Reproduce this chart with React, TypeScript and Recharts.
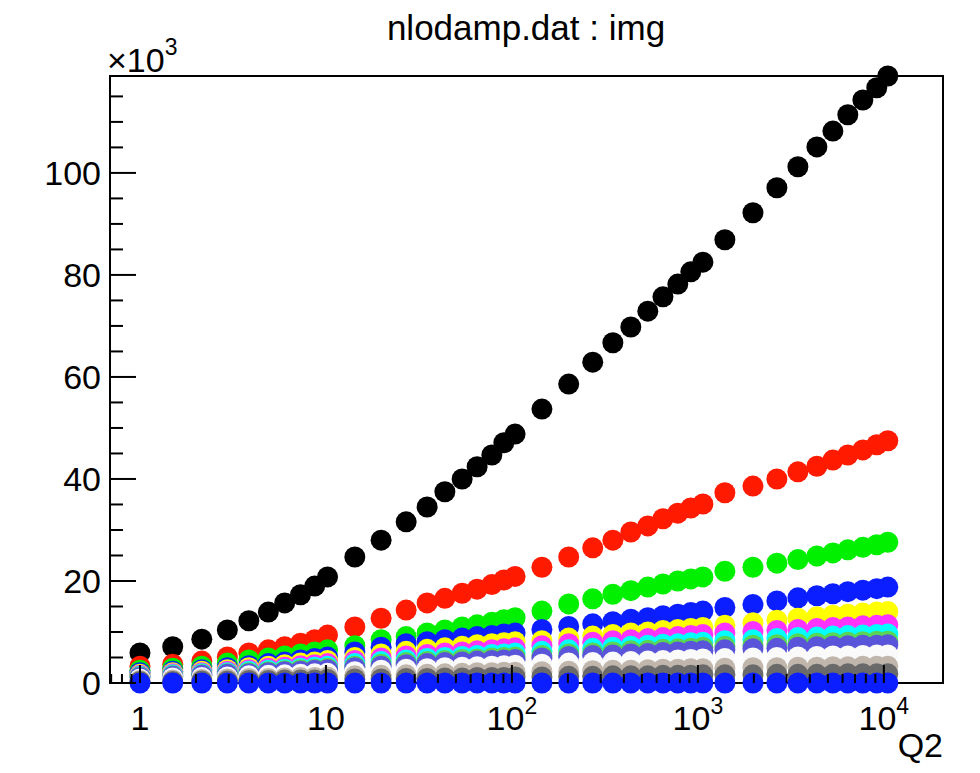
import { ScatterChart, Scatter, XAxis, YAxis, ReferenceArea } from 'recharts';

// Q2 grid (log x), 4 decades of 10 points
const q2 = [
  1, 1.5, 2.15, 2.95, 3.85, 4.9, 6.0, 7.3, 8.7, 10.2,
  14.3, 19.8, 27, 35, 43.6, 54, 65, 78, 90.5, 104,
  145, 202, 272, 349, 436, 538, 649, 780, 916, 1064,
  1397, 1977, 2660, 3450, 4365, 5320, 6400, 7710, 9160, 10500,
];

// values in units of 10^3
const black = [
  5.9, 7.1, 8.6, 10.4, 12.2, 13.9, 15.7, 17.3, 19.0, 20.8,
  24.7, 28.0, 31.6, 34.5, 37.5, 40.0, 42.4, 44.7, 47.1, 48.8,
  53.7, 58.6, 62.9, 66.7, 69.8, 72.9, 75.7, 78.2, 80.6, 82.5,
  86.9, 92.2, 97.1, 101.2, 105.1, 108.2, 111.4, 114.3, 116.7, 119.0,
];
const red = [
  3.3, 3.7, 4.3, 5.1, 5.9, 6.5, 7.1, 7.8, 8.5, 9.4,
  11.0, 12.7, 14.3, 15.7, 16.6, 17.6, 18.4, 19.3, 20.2, 20.9,
  22.7, 24.7, 26.5, 28.0, 29.6, 30.8, 32.2, 33.3, 34.3, 35.1,
  37.3, 38.6, 40.0, 41.4, 42.5, 43.7, 44.7, 45.7, 46.7, 47.5,
];
const green = [
  2.5, 2.9, 3.3, 3.9, 4.5, 4.9, 5.3, 5.7, 6.1, 6.5,
  7.3, 8.5, 9.1, 9.8, 10.4, 11.0, 11.4, 11.9, 12.4, 12.8,
  14.1, 15.5, 16.5, 17.4, 18.1, 18.8, 19.4, 20.0, 20.4, 20.8,
  21.9, 22.7, 23.5, 24.2, 24.9, 25.5, 26.1, 26.6, 27.1, 27.6,
];
const blue = [
  2.0, 2.3, 2.6, 3.0, 3.4, 3.8, 4.1, 4.5, 4.8, 5.1,
  6.1, 7.0, 7.7, 8.1, 8.5, 8.8, 9.1, 9.3, 9.6, 9.8,
  10.5, 11.1, 11.6, 12.0, 12.5, 12.8, 13.2, 13.5, 13.8, 14.1,
  14.8, 15.4, 16.1, 16.7, 17.1, 17.5, 17.9, 18.2, 18.5, 18.8,
];
const yellow = [
  1.7, 2.0, 2.3, 2.6, 3.0, 3.3, 3.6, 3.9, 4.1, 4.4,
  5.0, 5.7, 6.2, 6.6, 6.9, 7.2, 7.5, 7.7, 7.9, 8.1,
  8.3, 8.8, 9.2, 9.5, 9.8, 10.0, 10.3, 10.5, 10.7, 10.9,
  11.3, 11.8, 12.3, 12.7, 13.0, 13.3, 13.5, 13.7, 13.9, 14.0,
];
const magenta = [
  1.5, 1.8, 2.0, 2.3, 2.6, 2.9, 3.1, 3.4, 3.6, 3.8,
  4.4, 4.9, 5.3, 5.6, 5.9, 6.1, 6.3, 6.5, 6.7, 6.9,
  7.3, 7.7, 8.0, 8.3, 8.5, 8.7, 8.9, 9.1, 9.3, 9.5,
  9.8, 10.1, 10.3, 10.5, 10.7, 10.9, 11.0, 11.2, 11.3, 11.4,
];
const cyan = [
  1.3, 1.6, 1.8, 2.0, 2.3, 2.5, 2.7, 2.9, 3.1, 3.3,
  3.8, 4.2, 4.5, 4.8, 5.0, 5.2, 5.4, 5.6, 5.7, 5.9,
  6.2, 6.5, 6.8, 7.0, 7.2, 7.4, 7.6, 7.7, 7.9, 8.0,
  8.3, 8.5, 8.7, 8.9, 9.0, 9.2, 9.3, 9.4, 9.5, 9.6,
];
const green2 = [
  1.2, 1.4, 1.6, 1.8, 2.0, 2.2, 2.4, 2.6, 2.7, 2.9,
  3.3, 3.7, 4.0, 4.2, 4.4, 4.6, 4.7, 4.9, 5.0, 5.1,
  5.4, 5.7, 5.9, 6.1, 6.3, 6.4, 6.6, 6.7, 6.8, 7.0,
  7.2, 7.4, 7.5, 7.7, 7.8, 7.9, 8.0, 8.1, 8.2, 8.2,
];
const purple = [
  1.1, 1.3, 1.5, 1.7, 1.8, 2.0, 2.2, 2.3, 2.5, 2.6,
  3.0, 3.3, 3.6, 3.8, 4.0, 4.1, 4.3, 4.4, 4.5, 4.6,
  4.9, 5.2, 5.4, 5.5, 5.7, 5.8, 6.0, 6.1, 6.2, 6.3,
  6.5, 6.7, 6.8, 7.0, 7.1, 7.2, 7.3, 7.4, 7.4, 7.5,
];
const white = [
  0.8, 1.0, 1.1, 1.2, 1.4, 1.5, 1.6, 1.7, 1.8, 1.9,
  2.2, 2.5, 2.7, 2.8, 3.0, 3.1, 3.2, 3.3, 3.4, 3.5,
  3.7, 3.9, 4.0, 4.1, 4.2, 4.3, 4.4, 4.5, 4.6, 4.7,
  4.8, 4.9, 5.0, 5.1, 5.2, 5.3, 5.3, 5.4, 5.5, 5.5,
];
const lightGray = [
  0.5, 0.6, 0.7, 0.8, 0.9, 0.9, 1.0, 1.1, 1.1, 1.2,
  1.4, 1.5, 1.6, 1.7, 1.8, 1.9, 2.0, 2.0, 2.1, 2.1,
  2.2, 2.3, 2.4, 2.5, 2.5, 2.6, 2.7, 2.7, 2.8, 2.8,
  2.9, 3.0, 3.0, 3.1, 3.1, 3.2, 3.2, 3.3, 3.3, 3.3,
];
const darkGray = [
  0.3, 0.3, 0.4, 0.4, 0.5, 0.5, 0.6, 0.6, 0.6, 0.7,
  0.8, 0.8, 0.9, 0.9, 1.0, 1.0, 1.1, 1.1, 1.1, 1.2,
  1.2, 1.3, 1.3, 1.4, 1.4, 1.4, 1.5, 1.5, 1.5, 1.6,
  1.6, 1.6, 1.7, 1.7, 1.7, 1.7, 1.8, 1.8, 1.8, 1.8,
];
const bottom = [
  0, 0, 0, 0, 0, 0, 0, 0, 0, 0,
  0, 0, 0, 0, 0, 0, 0, 0, 0, 0,
  0, 0, 0, 0, 0, 0, 0, 0, 0, 0,
  0, 0, 0, 0, 0, 0, 0, 0, 0, 0,
];

const series = [
  { key: 'black', color: '#000000', values: black },
  { key: 'red', color: '#ff1a00', values: red },
  { key: 'green', color: '#00f000', values: green },
  { key: 'blue', color: '#0a1eff', values: blue },
  { key: 'yellow', color: '#ffff00', values: yellow },
  { key: 'magenta', color: '#ff33ff', values: magenta },
  { key: 'cyan', color: '#00ffff', values: cyan },
  { key: 'green2', color: '#59d454', values: green2 },
  { key: 'purple', color: '#5954d9', values: purple },
  { key: 'white', color: '#fafafa', values: white },
  { key: 'lightGray', color: '#c0b6ac', values: lightGray },
  { key: 'darkGray', color: '#6a6a6a', values: darkGray },
  { key: 'bottom', color: '#0a1eff', values: bottom },
];

const xMajor = [1, 10, 100, 1000, 10000];
const xTicks = [
  0.7, 0.8, 0.9, 1, 2, 3, 4, 5, 6, 7, 8, 9, 10, 20, 30, 40, 50, 60, 70, 80, 90,
  100, 200, 300, 400, 500, 600, 700, 800, 900, 1000, 2000, 3000, 4000, 5000,
  6000, 7000, 8000, 9000, 10000,
];
const yTicks = [
  0, 5, 10, 15, 20, 25, 30, 35, 40, 45, 50, 55, 60, 65, 70, 75, 80, 85, 90, 95,
  100, 105, 110, 115,
];

const FONT = '"Liberation Sans", Arial, Helvetica, sans-serif';

function XTick(props: any) {
  const { x, y, payload } = props;
  const v = payload.value;
  const major = xMajor.includes(v);
  const len = major ? 18 : 9;
  let label: any = null;
  if (major) {
    const exp = Math.round(Math.log10(v));
    label =
      exp <= 1 ? (
        <text x={x} y={y + 47} textAnchor="middle" fontSize={34} fontFamily={FONT} fill="#000">
          {v === 1 ? '1' : '10'}
        </text>
      ) : (
        <text x={x} y={y + 47} textAnchor="middle" fontSize={34} fontFamily={FONT} fill="#000">
          10
          <tspan dy={-16} fontSize={23}>
            {exp}
          </tspan>
        </text>
      );
  }
  return (
    <g>
      <line x1={x} y1={y} x2={x} y2={y - len} stroke="#000" strokeWidth={2} />
      {label}
    </g>
  );
}

function YTick(props: any) {
  const { x, y, payload } = props;
  const v = payload.value;
  const major = v % 20 === 0;
  return (
    <g>
      <line x1={x} y1={y} x2={x + (major ? 26 : 13)} y2={y} stroke="#000" strokeWidth={2} />
      {major && (
        <text x={x - 9} y={y + 12} textAnchor="end" fontSize={34} fontFamily={FONT} fill="#000">
          {v}
        </text>
      )}
    </g>
  );
}

export default function App() {
  const W = 964;
  const H = 757;
  return (
    <div style={{ position: 'relative', width: W, height: H, fontFamily: FONT }}>
      <div
        style={{
          position: 'absolute',
          left: 318,
          top: 2,
          width: 400,
          textAlign: 'center',
          fontSize: 35,
          lineHeight: '36px',
          color: '#000',
        }}
      >
        nlodamp.dat : img
      </div>
      <ScatterChart width={W} height={H} margin={{ top: 68, right: 29, left: 0, bottom: 0 }}>
        <XAxis
          dataKey="x"
          type="number"
          scale="log"
          domain={[0.69, 20800]}
          ticks={xTicks}
          interval={0}
          tickSize={0}
          tickMargin={0}
          tickLine={false}
          axisLine={{ stroke: '#000', strokeWidth: 2 }}
          tick={<XTick />}
          height={82}
        />
        <YAxis
          dataKey="y"
          type="number"
          domain={[0, 119]}
          ticks={yTicks}
          interval={0}
          tickSize={0}
          tickMargin={0}
          tickLine={false}
          axisLine={{ stroke: '#000', strokeWidth: 2 }}
          tick={<YTick />}
          width={102}
        />
        <ReferenceArea x1={0.69} x2={20800} y1={0} y2={119} fill="none" stroke="#000" strokeWidth={2} />
        {series.map(s => (
          <Scatter
            key={s.key}
            data={q2.map((q, i) => ({ x: q, y: s.values[i] }))}
            fill={s.color}
            isAnimationActive={false}
            shape={(p: any) => <circle cx={p.cx} cy={p.cy} r={10.5} fill={s.color} />}
          />
        ))}
      </ScatterChart>
      <svg width={W} height={H} style={{ position: 'absolute', left: 0, top: 0, pointerEvents: 'none' }}>
        <text x={99} y={64} fontSize={34} fontFamily={FONT} fill="#000">
          ×10
          <tspan dy={-17} fontSize={23}>3</tspan>
        </text>
        <text x={935} y={749} textAnchor="end" fontSize={34} fontFamily={FONT} fill="#000">
          Q2
        </text>
      </svg>
    </div>
  );
}
